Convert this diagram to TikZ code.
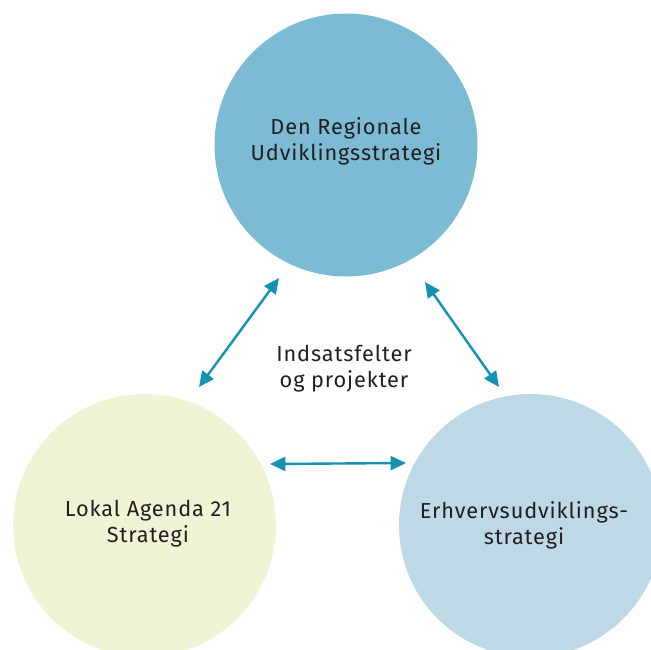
\documentclass[tikz,border=0pt]{standalone}
\usepackage{fontspec}
\setmainfont{Fira Sans}[LetterSpace=4]
\usetikzlibrary{arrows.meta}
\definecolor{topblue}{HTML}{7BBBD3}
\definecolor{lightgreen}{HTML}{F0F4D5}
\definecolor{lightblue}{HTML}{BCD9E5}
\definecolor{arrowteal}{HTML}{1492B0}
\definecolor{txt}{HTML}{231F20}
\tikzset{
  bubble/.style={circle, inner sep=0pt, draw=none, minimum size=197.25pt},
  lbl/.style={align=center, text=txt, font=\fontsize{16.3}{19.5}\selectfont},
  link/.style={arrowteal, line width=1.8pt, {Triangle[length=11.5pt,width=10.5pt]}-{Triangle[length=11.5pt,width=10.5pt]}}
}
\begin{document}
\begin{tikzpicture}[x=0.75pt,y=-0.75pt]
\useasboundingbox (0,0) rectangle (651,650);
\clip (0,0) rectangle (651,650);
\node[bubble, fill=topblue] (top) at (346,145) {};
\node[bubble, fill=lightgreen] (left) at (144.5,525.5) {};
\node[bubble, fill=lightblue] (right) at (530.5,525.5) {};
\node[lbl] (toplbl) at (346,141) {Den Regionale\\Udviklingsstrategi};
\node[lbl] (leftlbl) at (148,524) {Lokal Agenda 21\\Strategi};
\node[lbl] (rightlbl) at (524,525.5) {Erhvervsudviklings-\\strategi};
\node[lbl] (mid) at (344,369) {Indsatsfelter\\og projekter};
\coordinate (a1s) at (199,387);
\coordinate (a1e) at (279,278);
\coordinate (a2s) at (425,282);
\coordinate (a2e) at (499,387);
\coordinate (a3s) at (270,464);
\coordinate (a3e) at (406,463);
\draw[link] (a1s) -- (a1e);
\draw[link] (a2s) -- (a2e);
\draw[link] (a3s) -- (a3e);
\end{tikzpicture}
\end{document}
